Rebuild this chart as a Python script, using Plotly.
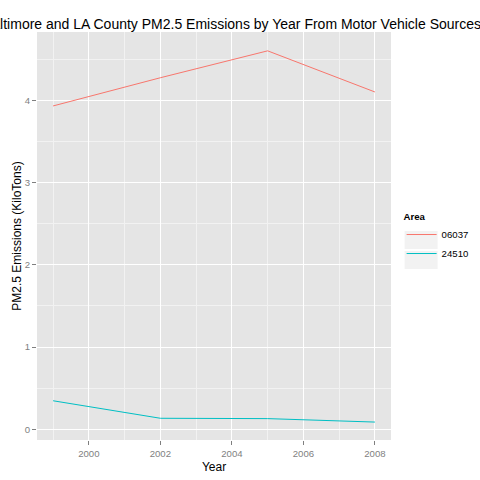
import plotly.graph_objects as go

# PM2.5 from motor vehicle sources, in kilotons
years = [1999, 2002, 2005, 2008]
la_kt = [3.931, 4.274, 4.601, 4.101]       # 06037 - LA County
balt_kt = [0.347, 0.134, 0.130, 0.088]     # 24510 - Baltimore City

areas = ['06037', '24510']
area_colors = ['#F8766D', '#00BFC4']

x_ticks = [2000, 2002, 2004, 2006, 2008]
y_ticks = [0, 1, 2, 3, 4]

font = 'Liberation Sans, Arial, sans-serif'
title = 'Baltimore and LA County PM2.5 Emissions by Year From Motor Vehicle Sources'

fig = go.Figure()
for name, vals, col in zip(areas, [la_kt, balt_kt], area_colors):
    fig.add_trace(go.Scatter(x=years, y=vals, mode='lines', name=name,
                             line=dict(color=col, width=1)))

fig.update_layout(
    width=480, height=480,
    margin=dict(l=37, r=89, t=32, b=40, autoexpand=False),
    paper_bgcolor='white',
    plot_bgcolor='#E5E5E5',
    font=dict(family=font, color='black'),
    legend=dict(title=dict(text='<b>Area</b>', font=dict(size=9.6)),
                font=dict(size=9.6), x=1.03, xanchor='left',
                y=0.495, yanchor='middle', bgcolor='rgba(0,0,0,0)'),
    showlegend=True,
)

# title as a plain annotation so the overflow is simply cut at the page edge
fig.add_annotation(text=title, xref='paper', yref='paper',
                   x=(232 - 37) / 354, y=(440 - 24) / 408, xanchor='center', yanchor='middle',
                   showarrow=False, font=dict(size=14, color='black'))

# light grey key boxes like ggplot's legend keys
for i in range(len(areas)):
    fig.add_shape(type='rect', xref='paper', yref='paper', layer='below',
                  x0=1.03 + 3 / 354, x1=1.03 + 36 / 354,
                  y0=(440 - 249 - 20 * i) / 408, y1=(440 - 231 - 20 * i) / 408,
                  fillcolor='#F2F2F2', line=dict(width=0))

fig.update_xaxes(range=[1998.55, 2008.45], tickvals=x_ticks, automargin=False,
                 ticks='outside', ticklen=4, tickcolor='#7F7F7F',
                 tickfont=dict(size=9.6, color='#7F7F7F'),
                 showgrid=True, gridcolor='white', gridwidth=1,
                 minor=dict(tickvals=[1999, 2001, 2003, 2005, 2007],
                            showgrid=True, gridcolor='#F2F2F2', gridwidth=0.5),
                 zeroline=False, showline=False,
                 title=dict(text='Year', font=dict(size=12), standoff=5))

fig.update_yaxes(range=[-0.13, 4.83], tickvals=y_ticks, automargin=False,
                 ticks='outside', ticklen=4, tickcolor='#7F7F7F',
                 tickfont=dict(size=9.6, color='#7F7F7F'),
                 showgrid=True, gridcolor='white', gridwidth=1,
                 minor=dict(tickvals=[0.5, 1.5, 2.5, 3.5, 4.5],
                            showgrid=True, gridcolor='#F2F2F2', gridwidth=0.5),
                 zeroline=False, showline=False,
                 title=dict(text='PM2.5 Emissions (KiloTons)', font=dict(size=12), standoff=0))

# drop the browser's default 8px body margin so the figure sits at the window corner
fig.write_html("out.html", config={'displayModeBar': False},
               post_script="document.body.style.margin='0px';")
